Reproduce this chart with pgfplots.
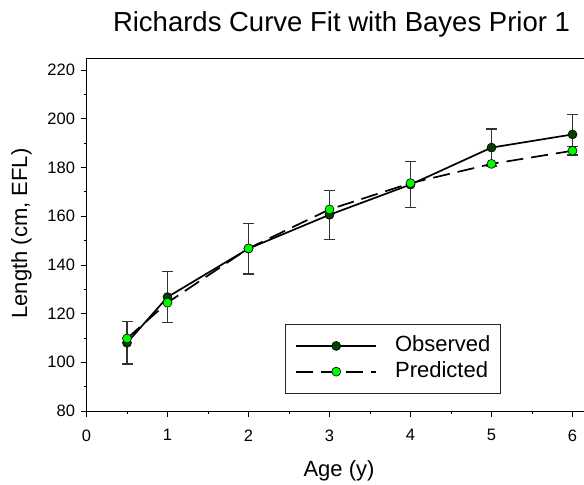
\documentclass[border=0pt]{standalone}
\usepackage{fontspec}
\setmainfont{Liberation Sans}
\usepackage{pgfplots}
\pgfplotsset{compat=1.18}
\definecolor{obsgreen}{RGB}{0,64,0}
\definecolor{predgreen}{RGB}{0,250,0}
\definecolor{errgray}{RGB}{51,51,51}
\begin{document}
\begin{tikzpicture}
\begin{axis}[
  at={(86.5bp,74bp)}, anchor=south west, scale only axis,
  width=526.5bp, height=353bp,
  xmin=0, xmax=6.5, ymin=80, ymax=225,
  xtick={0,1,...,6}, ytick={80,100,...,220},
  minor x tick num=1, minor y tick num=1,
  tick pos=left,
  tick align=outside,
  major tick length=6bp, minor tick length=3bp,
  tick style={black, line width=0.8bp},
  axis line style={black, line width=0.8bp},
  tick label style={font=\fontsize{16.5bp}{19bp}\selectfont},
  xticklabel style={yshift=-9bp},
  yticklabel style={xshift=-2bp},
  /pgf/number format/assume math mode=true,
  legend cell align=left,
  legend style={at={(rel axis cs:0.377,0.048)}, anchor=south west,
    draw=black!85, line width=0.8bp, fill=white,
    inner xsep=10bp, inner ysep=12bp, row sep=5.7bp, column sep=18bp,
    font=\fontsize{22bp}{26bp}\selectfont,
    nodes={inner sep=0pt, text height=16bp, text depth=4bp}},
  legend image code/.code={\draw[mark repeat=2,mark phase=2,#1] plot coordinates {(0bp,0bp) (40bp,0bp) (80bp,0bp)};},
]
\addplot[black, line width=1.7bp, mark=*, mark size=4.5bp,
  mark options={solid, fill=obsgreen, draw=black, line width=0.6bp},
  error bars/.cd, y dir=both, y explicit,
  error bar style={errgray, line width=1.2bp, solid},
  error mark options={rotate=90, errgray, mark size=5.5bp, line width=1.2bp}]
  table[x=x, y=y, y error=e] {
x   y     e
0.5 108.0 8.7
1   126.8 10.5
2   146.7 10.4
3   160.6 10.0
4   173.0 9.4
5   188.2 7.6
6   193.6 8.2
};
\addlegendentry{Observed}
\addplot[forget plot, draw=none, mark=none,
  error bars/.cd, y dir=both, y explicit,
  error bar style={errgray, line width=1.2bp, solid},
  error mark options={rotate=90, errgray, mark size=5.5bp, line width=1.2bp}]
  table[x=x, y=y, y error=e] {
x y     e
6 186.9 1.9
};
\addplot[black, line width=1.7bp, dash pattern=on 17bp off 8bp, mark=*, mark size=4.5bp,
  mark options={solid, fill=predgreen, draw=black, line width=0.6bp}]
  table[x=x, y=y] {
x   y
0.5 109.8
1   124.5
2   146.8
3   162.8
4   173.6
5   181.5
6   186.9
};
\addlegendentry{Predicted}
\end{axis}
\node[anchor=base, font=\fontsize{27.5bp}{32bp}\selectfont] at (341.5bp,453.3bp) {Richards Curve Fit with Bayes Prior 1};
\node[anchor=base, rotate=90, font=\fontsize{22bp}{26bp}\selectfont] at (27bp,251.5bp) {Length (cm, EFL)};
\node[anchor=base, font=\fontsize{22bp}{26bp}\selectfont] at (339bp,8.3bp) {Age (y)};
\pgfresetboundingbox
\path[use as bounding box] (0bp,0bp) rectangle (584bp,485bp);
\end{tikzpicture}
\end{document}
